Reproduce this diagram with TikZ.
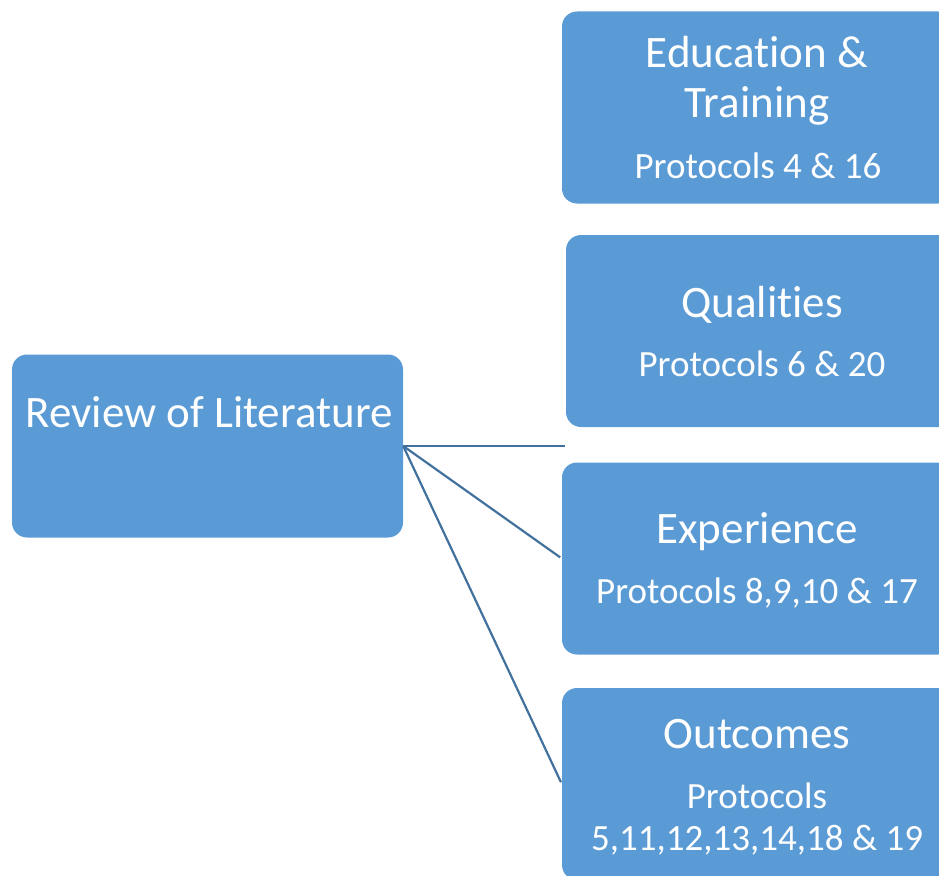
\documentclass[tikz,border=0pt]{standalone}
\usepackage{fontspec}
\setmainfont{Carlito}[Ligatures=NoCommon]
\definecolor{boxblue}{HTML}{5B9BD5}
\definecolor{linkblue}{HTML}{41719C}
\begin{document}
\begin{tikzpicture}[x=1pt,y=-1pt,
  box/.style={fill=boxblue, rounded corners=15pt, inner sep=0pt,
    minimum width=391pt, minimum height=#1},
  box/.default=192pt,
  head/.style={text=white, anchor=base, font=\fontsize{45}{50}\selectfont, inner sep=0pt},
  sub/.style={text=white, anchor=base, font=\fontsize{37}{42}\selectfont, inner sep=0pt},
  link/.style={draw=linkblue, line width=2.2pt, shorten >=2pt}]
\useasboundingbox (0,0) rectangle (939,875);

% central topic
\node[box=183pt] (lit) at (207.5,446) {};
\node[head] (litT) at (209,427) {Review of Literature};

% four branches
\node[box] (edu) at (757.5,107.5) {};
\node[box] (qual) at (761.5,331) {};
\node[box] (exp) at (757.5,558.5) {};
\node[box] (outc) at (757.5,784) {};

\node[head] (eduA) at (757,67) {Education \&};
\node[head] (eduB) at (757,117) {Training};
\node[sub] (eduP) at (758,178) {Protocols 4 \& 16};

\node[head] (qualA) at (762,317) {Qualities};
\node[sub] (qualP) at (762,376) {Protocols 6 \& 20};

\node[head] (expA) at (757,543) {Experience};
\node[sub] (expP) at (757,603) {Protocols 8,9,10 \& 17};

\node[head] (outA) at (757,748) {Outcomes};
\node[sub] (outP) at (757,808) {Protocols};
\node[sub] (outQ) at (757,850) {5,11,12,13,14,18 \& 19};

% connectors
\coordinate (gap) at (565,446);
\draw[link, shorten >=0pt] (lit.east) -- (gap);
\draw[link] (lit.east) -- (exp.west);
\draw[link] (lit.east) -- (outc.west);
\end{tikzpicture}
\end{document}
